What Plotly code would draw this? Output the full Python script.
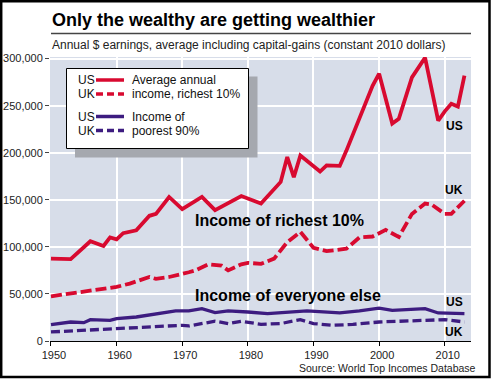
import plotly.graph_objects as go

# ---------------- data (thousands of constant-2010 dollars) ----------------
us_top_years = [1950, 1953, 1956, 1958, 1959, 1960, 1961, 1963, 1965, 1966, 1968, 1970,
                1973, 1975, 1979, 1982, 1985, 1986, 1987, 1988, 1991, 1992, 1994, 1995,
                1999, 2000, 2002, 2003, 2005, 2007, 2009, 2010, 2011, 2012, 2013]
us_top_vals = [87.5, 87, 106, 101, 110, 108, 114.5, 117.5, 133, 135, 153, 140,
               153, 139, 154, 146, 169, 195.5, 174, 197, 180, 186.5, 186, 202,
               271, 284, 231, 236, 280, 301, 234, 244, 252, 249, 282]

uk_top_years = [1950, 1960, 1962, 1965, 1966, 1968, 1971, 1972, 1974, 1976, 1977, 1979,
                1980, 1982, 1984, 1986, 1988, 1990, 1992, 1995, 1997, 1999, 2001, 2003,
                2005, 2007, 2008, 2010, 2011, 2013]
uk_top_vals = [47.5, 57.5, 61, 68, 66, 68, 73, 75, 81.5, 80, 75, 81.5,
               83, 82, 87.5, 105, 116, 99, 95.5, 98, 110, 111, 118, 110.5,
               135, 146, 145, 135, 135, 149]

us_bot_years = [1950, 1953, 1955, 1956, 1959, 1960, 1963, 1966, 1969, 1971, 1973, 1975,
                1977, 1980, 1983, 1989, 1994, 1997, 2000, 2002, 2007, 2009, 2013]
us_bot_vals = [17.4, 20.2, 19.5, 22.7, 22, 23.8, 25.5, 29, 31.9, 31.9, 34.4, 30.2,
               31.9, 30.8, 29, 31.9, 29.8, 31.9, 35, 32.6, 34.4, 29.8, 29]

uk_bot_years = [1950, 1960, 1966, 1970, 1971, 1974, 1975, 1977, 1979, 1982, 1985, 1988,
                1990, 1993, 1996, 2000, 2006, 2010, 2013]
uk_bot_vals = [9.6, 13.2, 15.6, 16.7, 16, 20.2, 21, 18.5, 21, 17.7, 18.5, 22.7,
               18.5, 16.7, 17.7, 20.2, 21.3, 22.7, 20.2]

x_ticks = [1950, 1960, 1970, 1980, 1990, 2000, 2010]
y_ticks = [0, 50000, 100000, 150000, 200000, 250000, 300000]

title = "Only the wealthy are getting wealthier"
subtitle = "Annual $ earnings, average including capital-gains (constant 2010 dollars)"
source = "Source: World Top Incomes Database"
legend_rows = [("US", "Average annual", "red", "solid"),
               ("UK", "income, richest 10%", "red", "dash"),
               ("US", "Income of", "purple", "solid"),
               ("UK", "poorest 90%", "purple", "dash")]

# ---------------- style ----------------
RED = "#d80a30"
PURPLE = "#3d1c80"
BG = "#d7dde9"
FONT = "Liberation Sans, Arial, sans-serif"

W, H = 492, 379
L, R, T, B = 50, 471, 57, 341


def px(x):
    return (x - L) / (R - L)


def py(y):
    return (B - y) / (B - T)


def k(vals):
    return [v * 1000 for v in vals]


fig = go.Figure()
fig.add_trace(go.Scatter(x=us_top_years, y=k(us_top_vals), mode="lines",
                         line=dict(color=RED, width=3.8)))
fig.add_trace(go.Scatter(x=uk_top_years, y=k(uk_top_vals), mode="lines",
                         line=dict(color=RED, width=3.8, dash="11px,4px")))
fig.add_trace(go.Scatter(x=us_bot_years, y=k(us_bot_vals), mode="lines",
                         line=dict(color=PURPLE, width=3.3)))
fig.add_trace(go.Scatter(x=uk_bot_years, y=k(uk_bot_vals), mode="lines",
                         line=dict(color=PURPLE, width=3.3, dash="9px,4px")))

shapes = []
# outer frame
shapes.append(dict(type="rect", xref="paper", yref="paper",
                   x0=px(1.2), x1=px(489.5), y0=py(377), y1=py(1.2),
                   line=dict(color="black", width=2.5), fillcolor="rgba(0,0,0,0)"))
# title rule
shapes.append(dict(type="line", xref="paper", yref="paper",
                   x0=px(51), x1=px(471), y0=py(33.5), y1=py(33.5),
                   line=dict(color="#444", width=1.5)))
# legend shadow and box
shapes.append(dict(type="rect", xref="paper", yref="paper",
                   x0=px(75), x1=px(257.5), y0=py(157.5), y1=py(76.5),
                   line=dict(width=0), fillcolor="#a5a8af"))
shapes.append(dict(type="rect", xref="paper", yref="paper",
                   x0=px(66.5), x1=px(248.5), y0=py(148.5), y1=py(68.5),
                   line=dict(color="black", width=1), fillcolor="white"))

annotations = []
row_y = [80, 94, 116.5, 130.5]
for (country, text, col, dash), yy in zip(legend_rows, row_y):
    c = RED if col == "red" else PURPLE
    shapes.append(dict(type="line", xref="paper", yref="paper",
                       x0=px(96), x1=px(124), y0=py(yy), y1=py(yy),
                       line=dict(color=c, width=3.5,
                                 dash="solid" if dash == "solid" else "7px,4px")))
    annotations.append(dict(x=px(75.5), y=py(yy), xref="paper", yref="paper",
                            text=country, showarrow=False, xanchor="left", yanchor="middle",
                            font=dict(family=FONT, size=12, color="#111")))
    annotations.append(dict(x=px(129.5), y=py(yy), xref="paper", yref="paper",
                            text=text, showarrow=False, xanchor="left", yanchor="middle",
                            font=dict(family=FONT, size=12, color="#111")))

annotations += [
    dict(x=px(50), y=py(20), xref="paper", yref="paper", text=title, showarrow=False,
         xanchor="left", yanchor="middle",
         font=dict(family=FONT, size=18, color="black", weight="bold")),
    dict(x=px(50), y=py(45), xref="paper", yref="paper", text=subtitle, showarrow=False,
         xanchor="left", yanchor="middle", font=dict(family=FONT, size=12, color="#222")),
    dict(x=px(478), y=py(367.5), xref="paper", yref="paper", text=source, showarrow=False,
         xanchor="right", yanchor="middle", font=dict(family=FONT, size=10.5, color="#222")),
    dict(x=px(193), y=py(220), xref="paper", yref="paper", text="Income of richest 10%",
         showarrow=False, xanchor="left", yanchor="middle",
         font=dict(family=FONT, size=16, color="black", weight="bold")),
    dict(x=px(193), y=py(295), xref="paper", yref="paper", text="Income of everyone else",
         showarrow=False, xanchor="left", yanchor="middle",
         font=dict(family=FONT, size=16, color="black", weight="bold")),
]
for lab, yy in [("US", 126), ("UK", 190), ("US", 302), ("UK", 331.5)]:
    annotations.append(dict(x=px(454), y=py(yy), xref="paper", yref="paper", text=lab,
                            showarrow=False, xanchor="center", yanchor="middle",
                            font=dict(family=FONT, size=12, color="black", weight="bold")))

fig.update_layout(
    width=W, height=H,
    margin=dict(l=L, r=W - R, t=T, b=H - B, pad=0, autoexpand=False),
    paper_bgcolor="white", plot_bgcolor=BG,
    showlegend=False, hovermode=False,
    shapes=shapes, annotations=annotations,
    font=dict(family=FONT, size=11, color="#222"),
)
fig.update_xaxes(range=[1949.85, 2014], tickvals=x_ticks, showgrid=True, automargin=False,
                 gridcolor="white", gridwidth=1.5, zeroline=False,
                 showline=True, linecolor="black", linewidth=1,
                 ticks="outside", ticklen=4, tickcolor="black",
                 tickfont=dict(family=FONT, size=11, color="#222"), ticklabelshift=3)
fig.update_yaxes(range=[0, 301700], tickvals=y_ticks, tickformat=",d", showgrid=True,
                 automargin=False,
                 gridcolor="white", gridwidth=1.5, zeroline=False, showline=False,
                 ticks="outside", ticklen=4, tickcolor="#444",
                 tickfont=dict(family=FONT, size=11, color="#222"))

fig.write_html("out.html", config={"displayModeBar": False},
               post_script="document.body.style.margin='0';document.body.style.padding='0';")
